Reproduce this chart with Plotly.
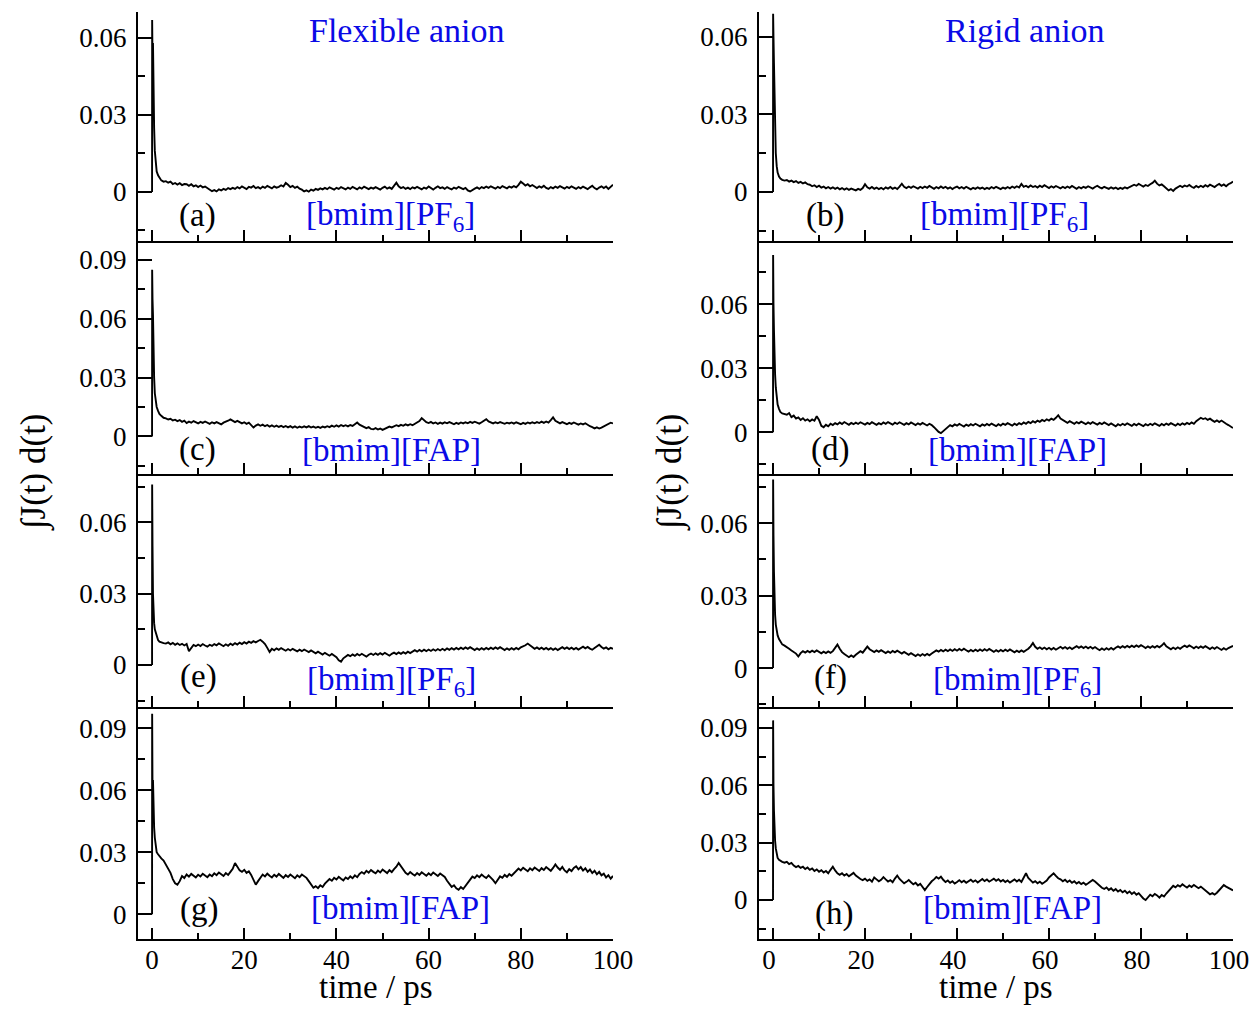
import plotly.graph_objects as go

# The page body has an 8 px margin on every side; size the figure to fit inside it
OFF = 8
W, H = 1258 - 2 * OFF, 1013 - 2 * OFF
FONT = "Liberation Serif"
BLUE = "#0a0ae6"

# ---------------- data ----------------
t_head = [0, 0.02, 0.1, 0.2, 0.3, 0.45, 0.6, 0.8, 1.0, 1.3, 1.6, 2.0, 2.5]
t_tail = [3.0 + 0.5 * i for i in range(195)]  # 3.0 ... 100.0 ps

a_head = [0, 0.067, 0.052, 0.058, 0.040, 0.025, 0.016, 0.011, 0.008, 0.0065, 0.0055, 0.0045, 0.004]
a_tail = [
    .0042, .0036, .0040, .0031, .0035, .0029, .0034, .0027, .0031, .0030,
    .0024, .0030, .0022, .0026, .0019, .0025, .0018, .0021, .0014, .0008,
    .0003, .0007, .0002, .0010, .0006, .0012, .0008, .0015, .0011, .0016,
    .0012, .0019, .0014, .0022, .0016, .0011, .0020, .0017, .0023, .0015,
    .0019, .0013, .0021, .0016, .0024, .0018, .0014, .0022, .0017, .0020,
    .0026, .0021, .0035, .0028, .0019, .0024, .0016, .0021, .0013, .0009,
    .0002, .0006, .0001, .0009, .0005, .0012, .0008, .0014, .0010, .0016,
    .0011, .0018, .0013, .0009, .0016, .0012, .0019, .0014, .0010, .0017,
    .0012, .0020, .0015, .0010, .0018, .0013, .0021, .0016, .0011, .0017,
    .0013, .0019, .0014, .0009, .0016, .0021, .0013, .0018, .0012, .0025,
    .0036, .0022, .0015, .0019, .0012, .0017, .0011, .0018, .0014, .0020,
    .0015, .0010, .0017, .0013, .0021, .0014, .0009, .0016, .0022, .0015,
    .0018, .0012, .0019, .0014, .0010, .0017, .0013, .0020, .0015, .0011,
    .0016, .0006, .0002, .0009, .0013, .0018, .0012, .0019, .0015, .0021,
    .0016, .0022, .0017, .0013, .0020, .0015, .0023, .0018, .0014, .0021,
    .0017, .0023, .0018, .0028, .0040, .0033, .0025, .0030, .0022, .0027,
    .0020, .0015, .0022, .0017, .0024, .0016, .0012, .0019, .0014, .0021,
    .0016, .0023, .0018, .0013, .0020, .0015, .0022, .0017, .0012, .0019,
    .0014, .0021, .0016, .0011, .0018, .0024, .0015, .0010, .0017, .0022,
    .0015, .0021, .0012, .0019, .0028,
]

b_head = [0, 0.069, 0.060, 0.050, 0.037, 0.024, 0.015, 0.010, 0.0075, 0.006, 0.0052, 0.0047, 0.0044]
b_tail = [
    .0046, .0040, .0044, .0038, .0042, .0035, .0039, .0033, .0037, .0030,
    .0028, .0022, .0026, .0019, .0024, .0017, .0021, .0014, .0019, .0013,
    .0018, .0012, .0017, .0010, .0015, .0009, .0014, .0008, .0013, .0010,
    .0006, .0012, .0008, .0015, .0030, .0018, .0013, .0019, .0012, .0017,
    .0011, .0016, .0010, .0018, .0013, .0019, .0012, .0017, .0011, .0021,
    .0032, .0020, .0015, .0021, .0016, .0022, .0017, .0013, .0020, .0015,
    .0021, .0016, .0023, .0017, .0012, .0019, .0014, .0021, .0015, .0020,
    .0013, .0018, .0011, .0017, .0021, .0014, .0019, .0013, .0020, .0015,
    .0010, .0016, .0012, .0018, .0013, .0017, .0011, .0016, .0012, .0019,
    .0014, .0020, .0015, .0011, .0017, .0013, .0019, .0014, .0021, .0016,
    .0022, .0017, .0031, .0020, .0024, .0018, .0025, .0019, .0023, .0017,
    .0024, .0019, .0026, .0020, .0015, .0022, .0017, .0023, .0018, .0014,
    .0020, .0015, .0021, .0016, .0023, .0017, .0012, .0019, .0014, .0020,
    .0016, .0022, .0017, .0013, .0019, .0024, .0018, .0014, .0020, .0016,
    .0012, .0018, .0013, .0017, .0011, .0016, .0012, .0018, .0014, .0019,
    .0022, .0028, .0024, .0031, .0026, .0021, .0027, .0023, .0030, .0035,
    .0044, .0032, .0025, .0029, .0022, .0012, .0006, .0011, .0004, .0013,
    .0018, .0024, .0019, .0025, .0021, .0027, .0020, .0016, .0023, .0018,
    .0024, .0019, .0026, .0021, .0028, .0023, .0019, .0026, .0031, .0024,
    .0029, .0022, .0030, .0034, .0040,
]

c_head = [0, 0.085, 0.070, 0.062, 0.045, 0.030, 0.022, 0.018, 0.015, 0.013, 0.0115, 0.0105, 0.0095]
c_tail = [
    .0092, .0086, .0090, .0081, .0085, .0078, .0083, .0074, .0080, .0068,
    .0075, .0070, .0078, .0072, .0066, .0074, .0069, .0076, .0070, .0064,
    .0072, .0066, .0073, .0068, .0061, .0070, .0074, .0080, .0087, .0078,
    .0073, .0079, .0071, .0066, .0072, .0064, .0070, .0058, .0045, .0055,
    .0061, .0054, .0060, .0052, .0058, .0050, .0056, .0049, .0055, .0048,
    .0054, .0047, .0053, .0046, .0052, .0045, .0051, .0044, .0050, .0045,
    .0051, .0046, .0052, .0045, .0050, .0044, .0049, .0043, .0050, .0046,
    .0052, .0047, .0055, .0049, .0056, .0050, .0058, .0052, .0057, .0051,
    .0058, .0053, .0062, .0071, .0060, .0054, .0048, .0042, .0047, .0038,
    .0036, .0042, .0035, .0040, .0033, .0039, .0045, .0050, .0046, .0053,
    .0057, .0052, .0059, .0054, .0061, .0056, .0062, .0057, .0063, .0068,
    .0078, .0093, .0080, .0072, .0068, .0074, .0066, .0071, .0064, .0070,
    .0065, .0072, .0067, .0073, .0068, .0062, .0069, .0064, .0071, .0066,
    .0072, .0067, .0074, .0069, .0075, .0070, .0065, .0072, .0080, .0088,
    .0076, .0070, .0066, .0072, .0067, .0073, .0068, .0064, .0070, .0066,
    .0071, .0065, .0072, .0067, .0062, .0069, .0064, .0071, .0066, .0072,
    .0067, .0073, .0068, .0075, .0069, .0076, .0070, .0083, .0097, .0080,
    .0072, .0066, .0073, .0068, .0062, .0069, .0064, .0071, .0065, .0060,
    .0066, .0061, .0067, .0058, .0052, .0047, .0041, .0046, .0040, .0045,
    .0051, .0058, .0064, .0070, .0066,
]

d_head = [0, 0.083, 0.060, 0.048, 0.036, 0.027, 0.021, 0.016, 0.013, 0.011, 0.0095, 0.0088, 0.0085]
d_tail = [
    .0082, .0090, .0071, .0078, .0064, .0070, .0058, .0066, .0055, .0061,
    .0052, .0060, .0054, .0075, .0058, .0030, .0024, .0035, .0028, .0040,
    .0034, .0043, .0037, .0046, .0039, .0048, .0041, .0035, .0044, .0038,
    .0045, .0039, .0047, .0041, .0036, .0044, .0038, .0047, .0041, .0035,
    .0043, .0037, .0046, .0040, .0048, .0042, .0036, .0045, .0039, .0047,
    .0041, .0035, .0043, .0037, .0046, .0040, .0034, .0042, .0036, .0044,
    .0038, .0032, .0040, .0034, .0024, .0012, .0002, -.0004, .0006, .0016,
    .0026, .0034, .0028, .0037, .0031, .0039, .0033, .0027, .0036, .0030,
    .0038, .0032, .0040, .0034, .0028, .0037, .0031, .0039, .0033, .0041,
    .0035, .0029, .0038, .0032, .0041, .0035, .0043, .0037, .0031, .0040,
    .0034, .0043, .0037, .0046, .0040, .0049, .0043, .0052, .0046, .0055,
    .0049, .0058, .0052, .0061, .0055, .0064, .0058, .0068, .0080, .0064,
    .0056, .0050, .0044, .0052, .0046, .0040, .0048, .0042, .0050, .0044,
    .0038, .0046, .0040, .0048, .0042, .0036, .0044, .0038, .0046, .0040,
    .0034, .0042, .0036, .0028, .0038, .0032, .0040, .0034, .0042, .0036,
    .0030, .0039, .0033, .0041, .0035, .0029, .0038, .0032, .0040, .0034,
    .0042, .0036, .0030, .0039, .0033, .0041, .0035, .0043, .0037, .0031,
    .0040, .0034, .0042, .0036, .0044, .0038, .0046, .0040, .0052, .0060,
    .0068, .0062, .0066, .0058, .0064, .0056, .0049, .0056, .0048, .0055,
    .0046, .0040, .0034, .0026, .0020,
]

e_head = [0, 0.076, 0.050, 0.030, 0.022, 0.0176, 0.0150, 0.0134, 0.012, 0.0105, 0.0098, 0.0094, 0.0092]
e_tail = [
    .0090, .0095, .0087, .0093, .0085, .0091, .0084, .0089, .0082, .0088,
    .0058, .0072, .0084, .0079, .0086, .0080, .0088, .0082, .0077, .0085,
    .0080, .0088, .0083, .0091, .0085, .0079, .0087, .0081, .0090, .0084,
    .0092, .0086, .0094, .0088, .0096, .0090, .0098, .0093, .0100, .0095,
    .0101, .0106, .0098, .0088, .0072, .0055, .0068, .0062, .0070, .0064,
    .0071, .0065, .0060, .0067, .0061, .0068, .0062, .0057, .0064, .0058,
    .0065, .0059, .0054, .0061, .0055, .0049, .0056, .0050, .0044, .0051,
    .0045, .0039, .0046, .0040, .0033, .0020, .0014, .0028, .0036, .0042,
    .0037, .0044, .0038, .0046, .0040, .0047, .0041, .0035, .0043, .0048,
    .0042, .0049, .0043, .0050, .0044, .0051, .0045, .0039, .0047, .0052,
    .0046, .0053, .0047, .0054, .0048, .0056, .0050, .0057, .0062, .0056,
    .0063, .0057, .0064, .0058, .0065, .0059, .0066, .0060, .0067, .0061,
    .0068, .0062, .0070, .0064, .0071, .0065, .0072, .0066, .0073, .0067,
    .0074, .0068, .0075, .0069, .0063, .0070, .0064, .0071, .0065, .0072,
    .0066, .0073, .0067, .0074, .0068, .0075, .0069, .0063, .0070, .0064,
    .0071, .0065, .0072, .0066, .0074, .0078, .0083, .0090, .0082, .0075,
    .0068, .0074, .0067, .0073, .0066, .0072, .0065, .0071, .0064, .0070,
    .0063, .0069, .0075, .0068, .0074, .0067, .0073, .0066, .0072, .0065,
    .0071, .0077, .0070, .0076, .0069, .0064, .0071, .0078, .0085, .0076,
    .0069, .0074, .0066, .0072, .0068,
]

f_head = [0, 0.078, 0.055, 0.040, 0.030, 0.022, 0.018, 0.015, 0.0135, 0.012, 0.011, 0.0098, 0.0093]
f_tail = [
    .0088, .0080, .0073, .0066, .0060, .0048, .0062, .0070, .0064, .0071,
    .0065, .0072, .0066, .0073, .0067, .0061, .0068, .0062, .0069, .0063,
    .0070, .0085, .0097, .0080, .0066, .0058, .0050, .0045, .0052, .0046,
    .0055, .0062, .0070, .0064, .0075, .0089, .0078, .0071, .0066, .0073,
    .0067, .0074, .0068, .0062, .0069, .0063, .0071, .0065, .0072, .0066,
    .0060, .0067, .0061, .0055, .0062, .0056, .0050, .0057, .0051, .0058,
    .0052, .0059, .0053, .0060, .0066, .0073, .0068, .0075, .0069, .0076,
    .0070, .0077, .0071, .0078, .0072, .0079, .0073, .0080, .0074, .0068,
    .0075, .0069, .0076, .0070, .0077, .0071, .0078, .0072, .0079, .0073,
    .0067, .0074, .0068, .0075, .0069, .0076, .0070, .0077, .0071, .0065,
    .0072, .0066, .0073, .0067, .0074, .0080, .0090, .0104, .0088, .0080,
    .0086, .0079, .0085, .0078, .0084, .0077, .0083, .0076, .0082, .0088,
    .0081, .0087, .0080, .0086, .0079, .0085, .0091, .0084, .0090, .0083,
    .0089, .0082, .0088, .0081, .0087, .0080, .0074, .0081, .0075, .0082,
    .0076, .0083, .0077, .0084, .0090, .0084, .0091, .0085, .0092, .0086,
    .0093, .0087, .0094, .0088, .0095, .0089, .0083, .0090, .0084, .0091,
    .0085, .0092, .0086, .0093, .0103, .0090, .0084, .0078, .0085, .0079,
    .0086, .0080, .0087, .0093, .0087, .0094, .0088, .0082, .0089, .0083,
    .0090, .0084, .0091, .0085, .0079, .0086, .0080, .0087, .0081, .0075,
    .0082, .0076, .0083, .0088, .0092,
]

g_head = [0, 0.097, 0.059, 0.065, 0.050, 0.042, 0.037, 0.033, 0.030, 0.029, 0.028, 0.027, 0.026]
g_tail = [
    .0240, .0225, .0200, .0170, .0150, .0143, .0160, .0185, .0175, .0192,
    .0182, .0195, .0186, .0178, .0191, .0183, .0196, .0187, .0179, .0192,
    .0184, .0198, .0189, .0202, .0191, .0185, .0199, .0190, .0205, .0220,
    .0248, .0230, .0212, .0205, .0215, .0200, .0208, .0190, .0168, .0143,
    .0160, .0178, .0192, .0183, .0196, .0186, .0178, .0191, .0182, .0195,
    .0185, .0176, .0189, .0180, .0192, .0183, .0174, .0188, .0179, .0192,
    .0183, .0176, .0160, .0142, .0128, .0136, .0126, .0140, .0132, .0148,
    .0158, .0170, .0162, .0176, .0168, .0181, .0172, .0164, .0178, .0170,
    .0183, .0174, .0188, .0179, .0195, .0204, .0196, .0210, .0201, .0214,
    .0205, .0198, .0211, .0202, .0216, .0207, .0199, .0213, .0204, .0218,
    .0230, .0248, .0232, .0215, .0200, .0192, .0204, .0195, .0187, .0199,
    .0190, .0203, .0194, .0186, .0198, .0189, .0202, .0193, .0185, .0197,
    .0188, .0180, .0162, .0145, .0132, .0140, .0125, .0118, .0131, .0122,
    .0136, .0150, .0168, .0182, .0175, .0188, .0179, .0192, .0183, .0175,
    .0188, .0178, .0165, .0150, .0168, .0183, .0176, .0190, .0181, .0194,
    .0186, .0199, .0210, .0221, .0212, .0225, .0216, .0208, .0222, .0213,
    .0226, .0217, .0209, .0223, .0214, .0228, .0219, .0210, .0224, .0241,
    .0226, .0215, .0229, .0212, .0203, .0218, .0209, .0224, .0232, .0217,
    .0228, .0211, .0222, .0205, .0216, .0199, .0210, .0193, .0205, .0188,
    .0196, .0178, .0189, .0172, .0185,
]

h_head = [0, 0.094, 0.060, 0.047, 0.038, 0.031, 0.027, 0.0235, 0.022, 0.021, 0.0205, 0.020, 0.0195]
h_tail = [
    .0200, .0188, .0194, .0180, .0172, .0178, .0168, .0174, .0162, .0170,
    .0158, .0165, .0152, .0160, .0148, .0156, .0144, .0152, .0140, .0158,
    .0174, .0155, .0140, .0132, .0140, .0128, .0136, .0124, .0132, .0142,
    .0128, .0118, .0110, .0104, .0112, .0100, .0108, .0096, .0118, .0108,
    .0098, .0106, .0120, .0108, .0097, .0104, .0093, .0112, .0128, .0110,
    .0098, .0087, .0095, .0105, .0093, .0082, .0090, .0076, .0085, .0070,
    .0052, .0068, .0086, .0098, .0108, .0120, .0112, .0122, .0106, .0094,
    .0102, .0090, .0098, .0086, .0094, .0104, .0093, .0101, .0090, .0098,
    .0106, .0095, .0103, .0092, .0100, .0110, .0099, .0107, .0096, .0104,
    .0112, .0101, .0109, .0097, .0105, .0094, .0102, .0091, .0099, .0108,
    .0097, .0106, .0095, .0118, .0140, .0115, .0100, .0091, .0099, .0088,
    .0096, .0085, .0093, .0102, .0118, .0132, .0140, .0126, .0114, .0108,
    .0098, .0106, .0094, .0102, .0090, .0098, .0086, .0094, .0083, .0091,
    .0080, .0088, .0096, .0105, .0097, .0085, .0072, .0064, .0058, .0066,
    .0053, .0061, .0048, .0057, .0044, .0052, .0040, .0049, .0036, .0045,
    .0032, .0041, .0028, .0036, .0022, .0008, .0000, .0015, .0028, .0020,
    .0032, .0024, .0012, .0026, .0018, .0034, .0048, .0062, .0074, .0066,
    .0078, .0070, .0082, .0073, .0065, .0076, .0068, .0079, .0070, .0062,
    .0070, .0060, .0048, .0038, .0030, .0036, .0028, .0038, .0050, .0065,
    .0078, .0070, .0062, .0055, .0050,
]

panel_ids = ["a", "b", "c", "d", "e", "f", "g", "h"]
series = {
    "a": a_head + a_tail, "b": b_head + b_tail, "c": c_head + c_tail, "d": d_head + d_tail,
    "e": e_head + e_tail, "f": f_head + f_tail, "g": g_head + g_tail, "h": h_head + h_tail,
}
liquids = {"a": "[bmim][PF<sub>6</sub>]", "b": "[bmim][PF<sub>6</sub>]",
           "c": "[bmim][FAP]", "d": "[bmim][FAP]",
           "e": "[bmim][PF<sub>6</sub>]", "f": "[bmim][PF<sub>6</sub>]",
           "g": "[bmim][FAP]", "h": "[bmim][FAP]"}
y_ranges = {"a": [-0.0191, 0.0701], "b": [-0.019, 0.0697], "c": [-0.0192, 0.0997],
            "d": [-0.0195, 0.0895], "e": [-0.0177, 0.0804], "f": [-0.0161, 0.0803],
            "g": [-0.012, 0.1003], "h": [-0.0204, 0.101]}
y_major = [0, 0.03, 0.06, 0.09]
y_major_text = ["0", "0.03", "0.06", "0.09"]
y_minor = [-0.015, 0.015, 0.045, 0.075]
x_major = [0, 20, 40, 60, 80, 100]
x_minor = [10, 30, 50, 70, 90]
time = t_head + t_tail

# ---------------- layout geometry (screen pixels) ----------------
rows_px = [(12, 241), (241, 474), (474, 707), (707, 939)]
cols_px = [(138, 613), (759, 1233)]


def px_x(p):
    return (p - OFF) / W


def px_y(p):
    return 1 - (p - OFF) / H


fig = go.Figure()
layout = {}
for i, pid in enumerate(panel_ids):
    r, c = divmod(i, 2)
    n = i + 1
    xa = "x" if n == 1 else f"x{n}"
    ya = "y" if n == 1 else f"y{n}"
    fig.add_trace(go.Scatter(x=time, y=series[pid], mode="lines",
                             line=dict(color="black", width=1.9),
                             xaxis=xa, yaxis=ya, showlegend=False, hoverinfo="skip"))
    top, bot = rows_px[r]
    left, right = cols_px[c]
    layout[f"xaxis{n}"] = dict(
        domain=[px_x(left), px_x(right)], anchor=ya, range=[-3.05, 100],
        showline=True, linecolor="black", linewidth=2, mirror=False,
        showgrid=False, zeroline=False, automargin=False,
        tickmode="array", tickvals=x_major, ticktext=[str(v) for v in x_major],
        ticks="inside", ticklen=11, tickwidth=2, tickcolor="black",
        minor=dict(tickvals=x_minor, ticks="inside", ticklen=6, tickwidth=2, tickcolor="black"),
        showticklabels=(r == 3), ticklabelstandoff=-4,
        ticklabelshift=(-4 if c == 1 else 0),
        tickfont=dict(family=FONT, size=27, color="black"),
    )
    yr = y_ranges[pid]
    tv = [v for v in y_major if yr[0] <= v <= yr[1]]
    tt = [y_major_text[y_major.index(v)] for v in tv]
    layout[f"yaxis{n}"] = dict(
        domain=[px_y(bot), px_y(top)], anchor=xa, range=yr,
        showline=True, linecolor="black", linewidth=2, mirror=False,
        showgrid=False, zeroline=False, automargin=False,
        tickmode="array", tickvals=tv, ticktext=tt,
        ticks="inside", ticklen=14, tickwidth=2, tickcolor="black",
        minor=dict(tickvals=[v for v in y_minor if yr[0] <= v <= yr[1]],
                   ticks="inside", ticklen=7, tickwidth=2, tickcolor="black"),
        ticklabelstandoff=4,
        tickfont=dict(family=FONT, size=27, color="black"),
    )


def ann(text, x, y, size=30, color="black", angle=0):
    return dict(text=text, x=px_x(x), y=px_y(y), xref="paper", yref="paper",
                showarrow=False, xanchor="center", yanchor="middle", textangle=angle,
                font=dict(family=FONT, size=size, color=color))


label_pos = {
    "a": ((197, 215), (390, 217)), "b": ((825, 215), (1004, 217)),
    "c": ((197, 450), (391, 450)), "d": ((830, 450), (1017, 450)),
    "e": ((198, 676), (391, 681)), "f": ((830, 677), (1018, 681)),
    "g": ((199, 909), (400, 908)), "h": ((834, 913), (1012, 908)),
}
annotations = [
    ann("Flexible anion", 406, 30, 34, BLUE),
    ann("Rigid anion", 1025, 31, 34, BLUE),
    ann("∫J(t) d(t)", 34, 472, 35, "black", -90),
    ann("∫J(t) d(t)", 670, 472, 35, "black", -90),
    ann("time / ps", 376, 987, 33),
    ann("time / ps", 996, 987, 33),
]
for pid in panel_ids:
    (lx, ly), (nx, ny) = label_pos[pid]
    annotations.append(ann(f"({pid})", lx, ly, 33))
    annotations.append(ann(liquids[pid], nx, ny, 33, BLUE))

fig.update_layout(
    width=W, height=H, margin=dict(l=0, r=0, t=0, b=0, autoexpand=False),
    paper_bgcolor="white", plot_bgcolor="white",
    annotations=annotations, **layout,
)

fig.write_html("out.html")
